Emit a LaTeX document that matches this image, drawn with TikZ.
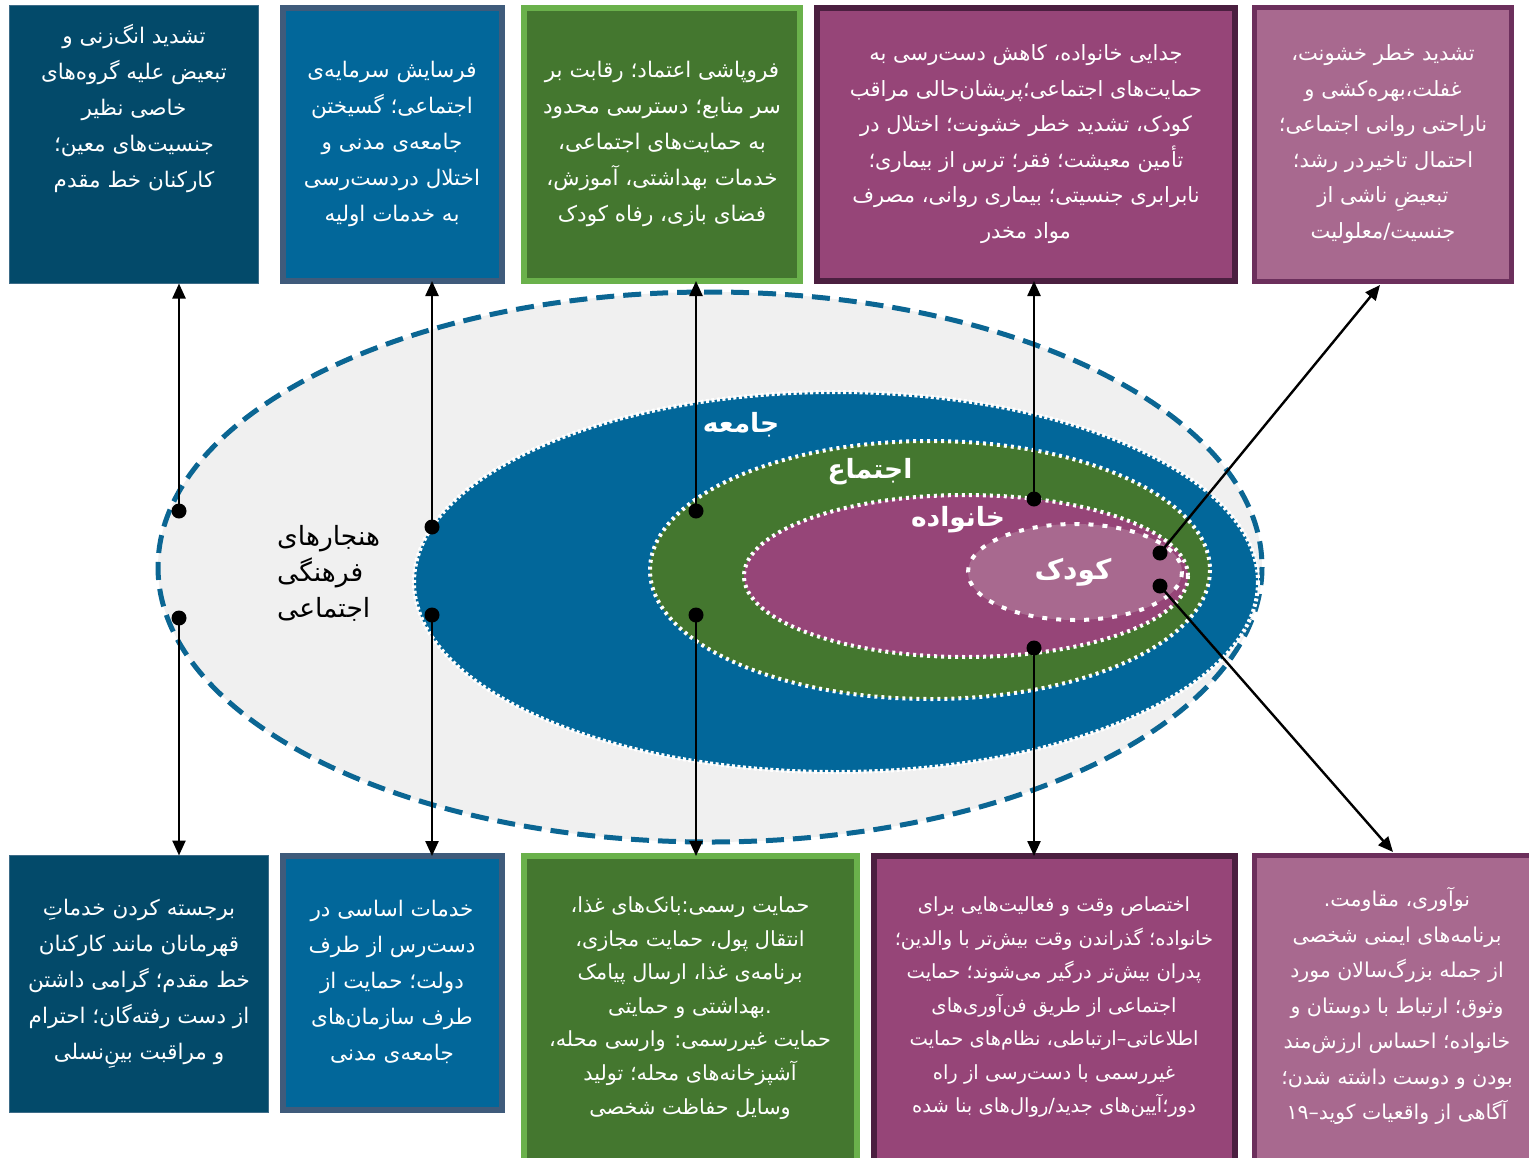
\documentclass[tikz,border=0pt]{standalone}
\usepackage{fontspec}
\usetikzlibrary{arrows.meta}
\TeXXeTstate=1
\newfontfamily\pfont[Script=Arabic]{DejaVu Sans}
\newcommand\rtl[1]{\beginR #1\endR}
\newcommand\zw{^^^^200c}
\definecolor{cDB}{HTML}{034A6A}
\definecolor{cDBb}{HTML}{3D6C88}
\definecolor{cMB}{HTML}{02679A}
\definecolor{cMBb}{HTML}{3F5B7B}
\definecolor{cGR}{HTML}{44772F}
\definecolor{cGRb}{HTML}{6AB14B}
\definecolor{cPU}{HTML}{964578}
\definecolor{cPUb}{HTML}{4B1F40}
\definecolor{cLP}{HTML}{A8698F}
\definecolor{cLPb}{HTML}{6C2F5C}
\definecolor{cOut}{HTML}{F0F0F0}
\definecolor{cDash}{HTML}{0B6693}
\begin{document}
\begin{tikzpicture}[x=1pt,y=-1pt,
  boxbase/.style={anchor=north west, inner sep=0pt, outer sep=0pt},
  txt/.style={text=white, align=center, inner sep=0pt, font={\pfont\fontsize{21.5}{36}\selectfont}},
  txtb/.style={text=white, align=center, inner sep=0pt, font={\pfont\fontsize{20.8}{33.6}\selectfont}},
  lbl/.style={text=white, inner sep=0pt, font={\pfont\bfseries\fontsize{26.5}{34}\selectfont}},
  conn/.style={line width=2.4pt, -{Triangle[length=15pt,width=13pt]}},
  wdot/.style={draw=white, line width=4pt}]
\useasboundingbox (0,0) rectangle (1529,1157);
% ellipses
\draw[fill=cOut, draw=cDash, line width=5pt, dash pattern=on 18pt off 9pt] (710,567) ellipse [x radius=552, y radius=275];
\draw[fill=cMB, wdot, dash pattern=on 3pt off 2.5pt] (836,582) ellipse [x radius=422, y radius=190];
\draw[fill=cGR, wdot, dash pattern=on 3pt off 4pt] (930,570) ellipse [x radius=280, y radius=129];
\draw[fill=cPU, wdot, dash pattern=on 3pt off 4pt] (966,576) ellipse [x radius=222, y radius=81];
\draw[fill=cLP, wdot, dash pattern=on 5pt off 9pt] (1075,572) ellipse [x radius=107, y radius=48];
% ellipse labels
\node[lbl] (Ljameh) at (741,425) {\rtl{جامعه}};
\node[lbl] (Lejtema) at (870,472) {\rtl{اجتماع}};
\node[lbl] (Lkhan) at (958,520) {\rtl{خانواده}};
\node[lbl, font={\pfont\bfseries\fontsize{28}{36}\selectfont}] (Lkud) at (1073,572) {\rtl{کودک}};
\node[anchor=west, align=left, inner sep=0pt, text=black, font={\pfont\fontsize{26.5}{36}\selectfont}] (Lnorm) at (277,573)
  {\rtl{هنجارهای}\\\rtl{فرهنگی}\\\rtl{اجتماعی}};
% top boxes
\node[boxbase, fill=cDB, draw=cDBb, line width=1pt, minimum width=249pt, minimum height=278pt] (T1) at (9.5,5.5) {};
\node[boxbase, fill=cMB, draw=cMBb, line width=6pt, minimum width=219pt, minimum height=273pt] (T2) at (283,8) {};
\node[boxbase, fill=cGR, draw=cGRb, line width=6pt, minimum width=276pt, minimum height=273pt] (T3) at (524,8) {};
\node[boxbase, fill=cPU, draw=cPUb, line width=6pt, minimum width=418pt, minimum height=273pt] (T4) at (817,8) {};
\node[boxbase, fill=cLP, draw=cLPb, line width=5pt, minimum width=257pt, minimum height=274pt] (T5) at (1254.5,7.5) {};
% bottom boxes
\node[boxbase, fill=cDB, draw=cDBb, line width=1pt, minimum width=259pt, minimum height=257pt] (B1) at (9.5,855.5) {};
\node[boxbase, fill=cMB, draw=cMBb, line width=6pt, minimum width=219pt, minimum height=254pt] (B2) at (283,856) {};
\node[boxbase, fill=cGR, draw=cGRb, line width=6pt, minimum width=333pt, minimum height=310pt] (B3) at (524,856) {};
\node[boxbase, fill=cPU, draw=cPUb, line width=6pt, minimum width=361pt, minimum height=310pt] (B4) at (874,856) {};
\node[boxbase, fill=cLP, draw=cLPb, line width=5pt, minimum width=285pt, minimum height=310pt] (B5) at (1254.5,855.5) {};
% top texts
\node[txt] (tT1) at (134,108) {\rtl{تشدید انگ\zw زنی و}\\\rtl{تبعیض علیه گروه\zw های}\\\rtl{خاصی نظیر}\\\rtl{جنسیت\zw های معین؛}\\\rtl{کارکنان خط مقدم}};
\node[txt] (tT2) at (392,144) {\rtl{فرسایش سرمایه\zw ی}\\\rtl{اجتماعی؛ گسیختن}\\\rtl{جامعه\zw ی مدنی و}\\\rtl{اختلال دردست\zw رسی}\\\rtl{به خدمات اولیه}};
\node[txt] (tT3) at (662,144) {\rtl{فروپاشی اعتماد؛ رقابت بر}\\\rtl{سر منابع؛ دسترسی محدود}\\\rtl{به حمایت\zw های اجتماعی،}\\\rtl{خدمات بهداشتی، آموزش،}\\\rtl{فضای بازی، رفاه کودک}};
\node[txt, font={\pfont\fontsize{21}{35.6}\selectfont}] (tT4) at (1026,144) {\rtl{جدایی خانواده، کاهش دست\zw رسی به}\\\rtl{حمایت\zw های اجتماعی؛پریشان\zw حالی مراقب}\\\rtl{کودک، تشدید خطر خشونت؛ اختلال در}\\\rtl{تأمین معیشت؛ فقر؛ ترس از بیماری؛}\\\rtl{نابرابری جنسیتی؛ بیماری روانی، مصرف}\\\rtl{مواد مخدر}};
\node[txt, font={\pfont\fontsize{21}{35.6}\selectfont}] (tT5) at (1383,144) {\rtl{تشدید خطر خشونت،}\\\rtl{غفلت،بهره\zw کشی و}\\\rtl{ناراحتی روانی اجتماعی؛}\\\rtl{احتمال تاخیردر رشد؛}\\\rtl{تبعیضِ ناشی از}\\\rtl{جنسیت/معلولیت}};
% bottom texts
\node[txt] (tB1) at (139,984) {\rtl{برجسته کردن خدماتِ}\\\rtl{قهرمانان مانند کارکنان}\\\rtl{خط مقدم؛ گرامی داشتن}\\\rtl{از دست رفته\zw گان؛ احترام}\\\rtl{و مراقبت بینِ\zw نسلی}};
\node[txt] (tB2) at (392,982) {\rtl{خدمات اساسی در}\\\rtl{دست\zw رس از طرف}\\\rtl{دولت؛ حمایت از}\\\rtl{طرف سازمان\zw های}\\\rtl{جامعه\zw ی مدنی}};
\node[txtb] (tB3) at (690,1008) {\rtl{حمایت رسمی:بانک\zw های غذا،}\\\rtl{انتقال پول، حمایت مجازی،}\\\rtl{برنامه\zw ی غذا، ارسال پیامک}\\\rtl{.بهداشتی و حمایتی}\\\rtl{حمایت غیررسمی: وارسی محله،}\\\rtl{آشپزخانه\zw های محله؛ تولید}\\\rtl{وسایل حفاظت شخصی}};
\node[txtb, font={\pfont\fontsize{19.5}{33.5}\selectfont}] (tB4) at (1054,1007) {\rtl{اختصاص وقت و فعالیت\zw هایی برای}\\\rtl{خانواده؛ گذراندن وقت بیش\zw تر با والدین؛}\\\rtl{پدران بیش\zw تر درگیر می\zw شوند؛ حمایت}\\\rtl{اجتماعی از طریق فن\zw آوری\zw های}\\\rtl{اطلاعاتی–ارتباطی، نظام\zw های حمایت}\\\rtl{غیررسمی با دست\zw رسی از راه}\\\rtl{دور؛آیین\zw های جدید/روال\zw های بنا شده}};
\node[txt, font={\pfont\fontsize{20.5}{35.5}\selectfont}] (tB5) at (1397,1006) {\rtl{نوآوری، مقاومت.}\\\rtl{برنامه\zw های ایمنی شخصی}\\\rtl{از جمله بزرگ\zw سالان مورد}\\\rtl{وثوق؛ ارتباط با دوستان و}\\\rtl{خانواده؛ احساس ارزش\zw مند}\\\rtl{بودن و دوست داشته شدن؛}\\\rtl{آگاهی از واقعیات کوید–۱۹}};
% connector end points
\coordinate (d1u) at (179,511); \coordinate (d1d) at (179,618);
\coordinate (d2u) at (432,527); \coordinate (d2d) at (432,615);
\coordinate (d3u) at (696,511); \coordinate (d3d) at (696,615);
\coordinate (d4u) at (1034,499); \coordinate (d4d) at (1034,648);
\coordinate (d5u) at (1160,553); \coordinate (d5d) at (1160,586);
\coordinate (a5u) at (1380,285); \coordinate (a5d) at (1393,852);
\draw[conn] (d1u) -- (d1u |- T1.south);
\draw[conn] (d1d) -- (d1d |- B1.north);
\draw[conn] (d2u) -- (d2u |- T2.south);
\draw[conn] (d2d) -- (d2d |- B2.north);
\draw[conn] (d3u) -- (d3u |- T3.south);
\draw[conn] (d3d) -- (d3d |- B3.north);
\draw[conn] (d4u) -- (d4u |- T4.south);
\draw[conn] (d4d) -- (d4d |- B4.north);
\draw[conn] (d5u) -- (a5u);
\draw[conn] (d5d) -- (a5d);
\foreach \d in {d1u,d1d,d2u,d2d,d3u,d3d,d4u,d4d,d5u,d5d}
  \fill (\d) circle [radius=7.5];
\end{tikzpicture}
\end{document}
